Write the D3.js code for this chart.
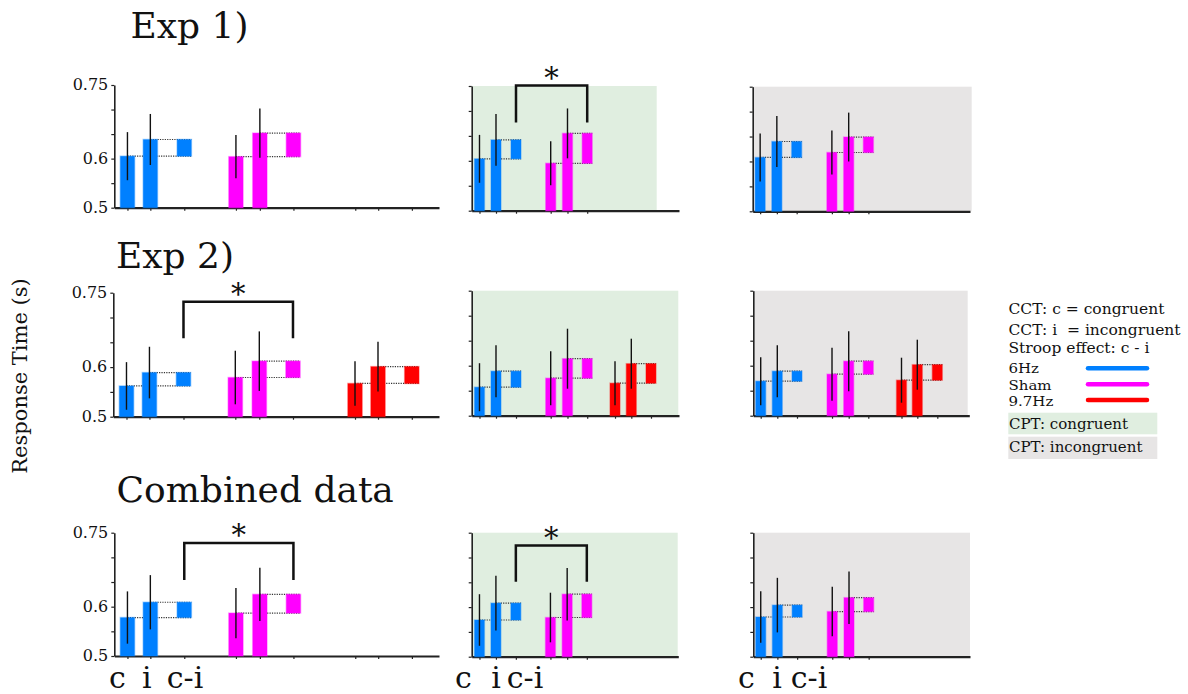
<!DOCTYPE html>
<html><head><meta charset="utf-8">
<script src="https://cdn.jsdelivr.net/npm/d3@7"></script>
<style>
body{margin:0;background:#fff}
svg{display:block}
text{font-family:"DejaVu Serif",serif;fill:#111}
</style></head>
<body><svg id="chart" width="1188" height="694"></svg>
<script>
// ---------------- DATA ----------------
const rowTitles = ["Exp 1)", "Exp 2)", "Combined data"];
const panelNames = ["CCT", "CPT: congruent", "CPT: incongruent"];
const groupNames = ["6Hz", "Sham", "9.7Hz"];
const conditionLabels = ["c", "i", "c-i"];
const yTickValues = [0.5, 0.55, 0.6, 0.65, 0.7, 0.75];
const yTickLabelValues = [0.5, 0.6, 0.75];
const yLabel = "Response Time (s)";

// [panel][group] mean response time (s)
const exp1Cong = [[0.605, 0.604], [0.604, 0.595], [0.608, 0.618]];
const exp1Incong = [[0.639, 0.652], [0.642, 0.655], [0.640, 0.649]];
const exp1CongErr = [[0.049, 0.044], [0.048, 0.044], [0.048, 0.044]];
const exp1IncongErr = [[0.052, 0.050], [0.052, 0.050], [0.051, 0.049]];

const exp2Cong = [[0.562, 0.579, 0.567], [0.557, 0.575, 0.565], [0.569, 0.583, 0.571]];
const exp2Incong = [[0.589, 0.612, 0.601], [0.589, 0.614, 0.604], [0.589, 0.609, 0.602]];
const exp2CongErr = [[0.048, 0.054, 0.045], [0.048, 0.054, 0.044], [0.048, 0.053, 0.045]];
const exp2IncongErr = [[0.052, 0.060, 0.050], [0.052, 0.060, 0.050], [0.052, 0.060, 0.050]];

const combCong = [[0.578, 0.587], [0.574, 0.579], [0.580, 0.591]];
const combIncong = [[0.609, 0.625], [0.608, 0.626], [0.604, 0.619]];
const combCongErr = [[0.053, 0.051], [0.052, 0.050], [0.052, 0.050]];
const combIncongErr = [[0.055, 0.054], [0.055, 0.053], [0.055, 0.053]];

// significant Stroop-effect differences (6Hz vs Sham): [row, panel]
const sigRows = [0, 1, 2, 2];
const sigPanels = [1, 0, 0, 1];

// ---------------- STYLE / LAYOUT ----------------
const groupColors = ["#0080ff", "#ff00ff", "#ff0000"];
const bgFills = [null, "#e0eee0", "#e7e5e5"];
const rowsData = [
  {cong: exp1Cong, inc: exp1Incong, congErr: exp1CongErr, incErr: exp1IncongErr},
  {cong: exp2Cong, inc: exp2Incong, congErr: exp2CongErr, incErr: exp2IncongErr},
  {cong: combCong, inc: combIncong, congErr: combCongErr, incErr: combIncongErr}
];
const layout = [
  {title: [130.5, 38.3], yTop: [85, 86, 86.7], yBot: [207.7, 210.7, 211.3],
   xL: [114.3, 471.7, 752.7], xR: [439, 679, 970], bgR: [0, 656.7, 971.7], nTicks: [9, 6, 6]},
  {title: [116, 267.5], yTop: [292.7, 290.7, 290.7], yBot: [416.7, 415.7, 415.7],
   xL: [113.3, 471.7, 753.3], xR: [439, 679, 969.3], bgR: [0, 678.3, 967.7], nTicks: [9, 9, 9]},
  {title: [116.5, 502], yTop: [532.7, 532.7, 532.7], yBot: [656, 656.7, 656.7],
   xL: [114.3, 471.7, 753.3], xR: [439, 678.3, 970], bgR: [0, 677.7, 970], nTicks: [9, 6, 6]}
];
const slotFrac = [
  [0.0405, 0.111, 0.2155, 0.3746, 0.4483, 0.5517, 0.7421, 0.8127, 0.9165],
  [0.0376, 0.1172, 0.2137, 0.3811, 0.4621, 0.5572, 0.6913, 0.7699, 0.8649],
  [0.0343, 0.1111, 0.2023, 0.3644, 0.4417, 0.5324, 0.6861, 0.7593, 0.8519]
];
const barFrac = [0.044, 0.048, 0.046];
const bracketTop = [0.751, 0.732, 0.729, 0.724];
const bracketLeg = [0.677, 0.658, 0.654, 0.651];
const condLabelX = [[117.5, 146.7, 185], [463.5, 496, 525], [746.5, 777, 809]];

const svg = d3.select("#chart");
const fmt = d3.format("");

rowsData.forEach((rd, r) => {
  const L = layout[r];
  svg.append("text").attr("x", L.title[0]).attr("y", L.title[1])
    .style("font-size", "36px").text(rowTitles[r]);

  for (let p = 0; p < 3; p++) {
    const x = d3.scaleLinear().domain([0, 1]).range([L.xL[p], L.xR[p]]);
    const y = d3.scaleLinear().domain([0.5, 0.75]).range([L.yBot[p], L.yTop[p]]);
    const g = svg.append("g").attr("class", "panel").attr("data-name", panelNames[p]);
    if (bgFills[p]) {
      g.append("rect").attr("x", L.xL[p]).attr("y", L.yTop[p])
        .attr("width", L.bgR[p] - L.xL[p]).attr("height", L.yBot[p] - L.yTop[p])
        .attr("fill", bgFills[p]);
    }
    // axes
    const ya = g.append("g").attr("transform", `translate(${L.xL[p]},0)`)
      .call(d3.axisLeft(y).tickValues(yTickValues).tickSize(3).tickSizeOuter(0)
        .tickFormat(d => (p === 0 && yTickLabelValues.includes(d)) ? fmt(d) : ""));
    ya.select(".domain").attr("stroke", "#222").attr("stroke-width", 1.6);
    ya.selectAll(".tick line").attr("stroke", "#222").attr("stroke-width", 1.2);
    ya.selectAll(".tick text").style("font-family", "DejaVu Serif").style("font-size", "16px")
      .attr("fill", "#111").attr("x", -6).attr("dy", "0.3em");
    const xa = g.append("g").attr("transform", `translate(0,${L.yBot[p]})`)
      .call(d3.axisBottom(x).tickValues(slotFrac[p].slice(0, L.nTicks[p]))
        .tickSize(3).tickSizeOuter(0).tickFormat(""));
    xa.select(".domain").attr("stroke", "#222").attr("stroke-width", 2.2);
    xa.selectAll(".tick line").attr("stroke", "#222").attr("stroke-width", 1.2);

    const bw = barFrac[p] * (L.xR[p] - L.xL[p]);
    const nG = rd.cong[p].length;
    for (let gi = 0; gi < nG; gi++) {
      const cV = rd.cong[p][gi], iV = rd.inc[p][gi];
      const cE = rd.congErr[p][gi], iE = rd.incErr[p][gi];
      const xc = x(slotFrac[p][gi * 3]), xi = x(slotFrac[p][gi * 3 + 1]), xd = x(slotFrac[p][gi * 3 + 2]);
      const col = groupColors[gi];
      // dotted guide lines
      [[xc, cV], [xi, iV]].forEach(([x0, v]) => {
        g.append("line").attr("x1", x0).attr("x2", xd + bw / 2)
          .attr("y1", y(v)).attr("y2", y(v))
          .attr("stroke", "#333").attr("stroke-width", 1.2).attr("stroke-dasharray", "1.2,1.2");
      });
      // bars
      [[xc, cV], [xi, iV]].forEach(([x0, v]) => {
        g.append("rect").attr("x", x0 - bw / 2).attr("y", y(v))
          .attr("width", bw).attr("height", y(0.5) - y(v))
          .attr("fill", col).attr("stroke", col).attr("stroke-opacity", 0.35).attr("stroke-width", 1.5);
      });
      // Stroop effect box (c - i)
      g.append("rect").attr("x", xd - bw / 2).attr("y", y(Math.max(cV, iV)))
        .attr("width", bw).attr("height", Math.abs(y(cV) - y(iV)))
        .attr("fill", col).attr("stroke", col).attr("stroke-opacity", 0.35).attr("stroke-width", 1.5);
      // error bars
      [[xc, cV, cE], [xi, iV, iE]].forEach(([x0, v, e]) => {
        g.append("line").attr("x1", x0).attr("x2", x0)
          .attr("y1", y(v - e)).attr("y2", y(v + e))
          .attr("stroke", "#111").attr("stroke-width", 1.4);
      });
    }
    // significance brackets
    sigRows.forEach((sr, k) => {
      if (sr !== r || sigPanels[k] !== p) return;
      const x1 = x(slotFrac[p][2]), x2 = x(slotFrac[p][5]);
      const yt = y(bracketTop[k]), yl = y(bracketLeg[k]);
      g.append("path").attr("d", `M${x1},${yl}V${yt}H${x2}V${yl}`)
        .attr("fill", "none").attr("stroke", "#111").attr("stroke-width", 2.5);
      g.append("text").attr("x", (x1 + x2) / 2).attr("y", yt + 2)
        .attr("text-anchor", "middle").style("font-size", "29px").text("*");
    });
    // condition labels under bottom row
    if (r === 2) {
      conditionLabels.forEach((t, k) => {
        g.append("text").attr("x", condLabelX[p][k]).attr("y", 688)
          .attr("text-anchor", "middle").style("font-size", "30px").text(t);
      });
    }
  }
});

// y-axis label
svg.append("text").attr("transform", "translate(27,376) rotate(-90)")
  .attr("text-anchor", "middle").style("font-size", "21px").text(yLabel);

// legend
const legendLines = ["CCT: c = congruent", "CCT: i  = incongruent", "Stroop effect: c - i"];
const legendY = [314, 335, 353.3];
legendLines.forEach((t, k) => {
  svg.append("text").attr("x", 1008.5).attr("y", legendY[k])
    .style("font-size", "15.5px").style("white-space", "pre").text(t);
});
const groupLegendY = [373.3, 390, 406];
const groupLineY = [368.3, 384.3, 400];
groupNames.forEach((t, k) => {
  svg.append("text").attr("transform", `translate(1008.5,${groupLegendY[k]}) scale(1,0.87)`)
    .style("font-size", "15px").text(t);
  svg.append("line").attr("x1", 1088).attr("x2", 1147).attr("y1", groupLineY[k]).attr("y2", groupLineY[k])
    .attr("stroke", groupColors[k]).attr("stroke-width", 4.5).attr("stroke-linecap", "round");
});
const bgLegend = [[412.7, 21.6, 429.3], [436.7, 22.3, 451.7]];
[1, 2].forEach((p, k) => {
  svg.append("rect").attr("x", 1008.3).attr("y", bgLegend[k][0]).attr("width", 149).attr("height", bgLegend[k][1])
    .attr("fill", bgFills[p]);
  svg.append("text").attr("x", 1009).attr("y", bgLegend[k][2]).style("font-size", "15px").text(panelNames[p]);
});
</script></body></html>
